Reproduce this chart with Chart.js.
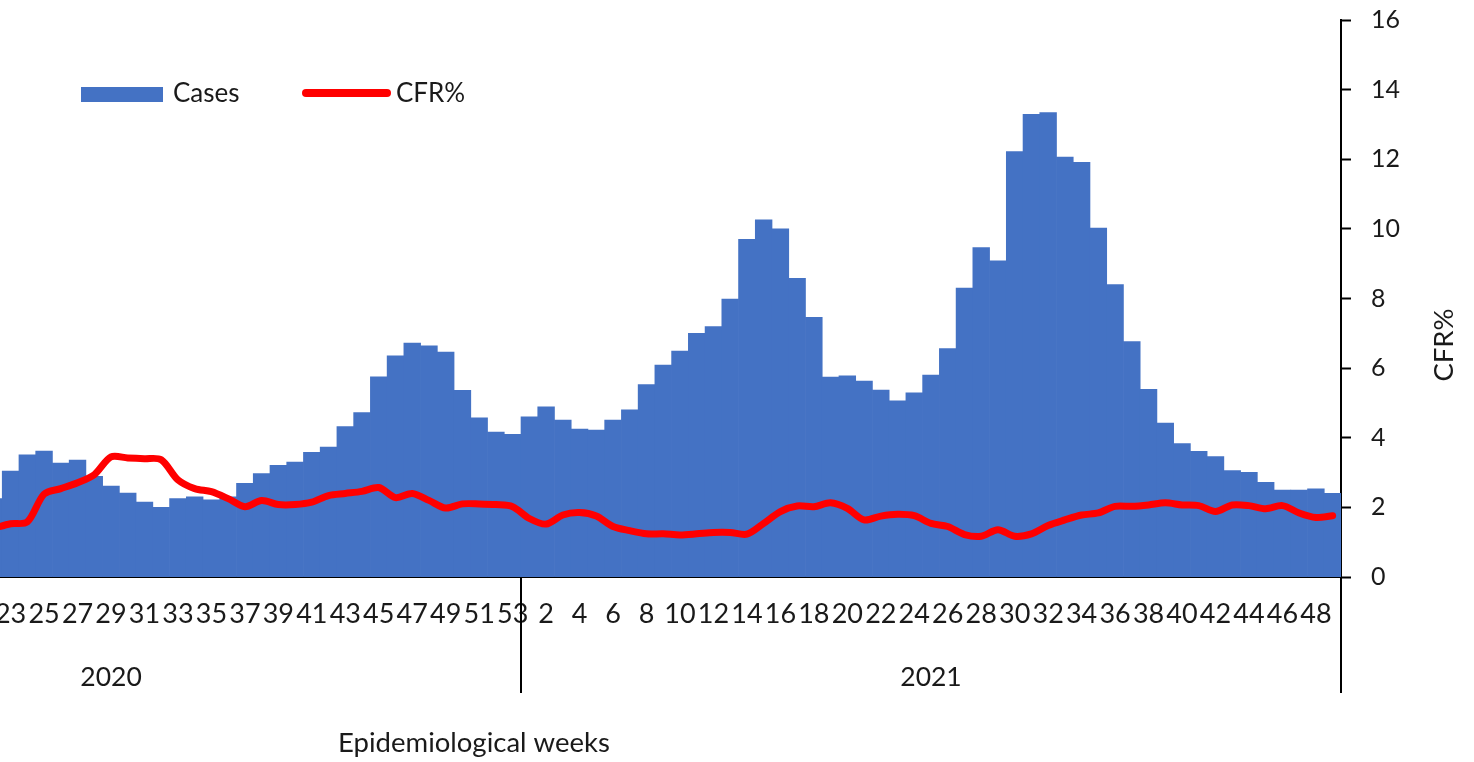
<!DOCTYPE html>
<html>
<head>
<meta charset="utf-8">
<title>Cases and CFR% by epidemiological week</title>
<script src="https://cdn.jsdelivr.net/npm/chart.js@4.4.1/dist/chart.umd.min.js"></script>
<style>
  html, body { margin: 0; padding: 0; background: #fff; overflow: hidden; }
  /* the original figure is cropped on the left, so the canvas starts off-screen */
  #wrap { position: absolute; left: -60px; top: 0; width: 1534px; height: 762px; }
</style>
</head>
<body>
<div id="wrap"><canvas id="chart" width="1534" height="762"></canvas></div>
<script>
const SHIFT = 60; // px of canvas hidden on the left

// 2020 w22..w53, then 2021 w1..w49
const weeks = [
  "22", "23", "24", "25", "26", "27", "28", "29", "30", "31", "32", "33", "34", "35", "36", "37",
  "38", "39", "40", "41", "42", "43", "44", "45", "46", "47", "48", "49", "50", "51", "52", "53",
  "1", "2", "3", "4", "5", "6", "7", "8", "9", "10", "11", "12", "13", "14", "15", "16", "17",
  "18", "19", "20", "21", "22", "23", "24", "25", "26", "27", "28", "29", "30", "31", "32", "33",
  "34", "35", "36", "37", "38", "39", "40", "41", "42", "43", "44", "45", "46", "47", "48", "49"
];
const years = ["2020", "2021"];
const firstWeek2020 = 5; // 2020 group starts before the visible part

const cases = [
  2250, 3040, 3510, 3620, 3270, 3360, 2890, 2610, 2410, 2150, 2000, 2250, 2300, 2220, 2300, 2690,
  2970, 3210, 3300, 3580, 3730, 4320, 4720, 5750, 6350, 6720, 6640, 6460, 5360, 4570, 4160, 4100,
  4600, 4890, 4510, 4250, 4220, 4510, 4800, 5530, 6090, 6490, 7000, 7190, 7980, 9700, 10260, 10000, 8580,
  7460, 5740, 5780, 5630, 5370, 5060, 5290, 5800, 6560, 8300, 9460, 9080, 12220, 13290, 13340, 12060,
  11910, 10020, 8400, 6760, 5390, 4420, 3830, 3610, 3460, 3060, 3010, 2720, 2500, 2500, 2530, 2400
];

const cfr = [
  1.40, 1.53, 1.58, 2.38, 2.54, 2.71, 2.94, 3.45, 3.42, 3.40, 3.37, 2.79, 2.54, 2.45, 2.25, 2.02,
  2.20, 2.08, 2.08, 2.15, 2.34, 2.40, 2.46, 2.57, 2.28, 2.40, 2.20, 1.98, 2.10, 2.10, 2.08, 2.02,
  1.68, 1.52, 1.78, 1.85, 1.75, 1.45, 1.33, 1.24, 1.24, 1.21, 1.24, 1.28, 1.28, 1.23, 1.54, 1.88, 2.04,
  2.02, 2.13, 1.97, 1.64, 1.75, 1.80, 1.76, 1.54, 1.45, 1.22, 1.17, 1.36, 1.17, 1.24, 1.48, 1.64,
  1.78, 1.84, 2.03, 2.03, 2.07, 2.13, 2.07, 2.05, 1.88, 2.07, 2.05, 1.96, 2.05, 1.84, 1.71, 1.76
];

const FONT = "Lato";
const TEXT = "#1a1a1a";
const BLUE = "#4472C4";
const RED = "#FF0000";

const extras = {
  id: "extras",
  afterDraw(chart) {
    const { ctx, chartArea, scales } = chart;
    const x = scales.x;
    const yearBreak = weeks.indexOf("1");
    const last = weeks.length - 1;
    ctx.save();

    // category group separators below the axis
    ctx.strokeStyle = "#000";
    ctx.lineWidth = 2;
    [yearBreak - 0.5, last + 0.5].forEach((v) => {
      const px = Math.round(x.getPixelForValue(v));
      ctx.beginPath();
      ctx.moveTo(px, chartArea.bottom);
      ctx.lineTo(px, 693);
      ctx.stroke();
    });

    // year labels
    ctx.font = "26.5px " + FONT;
    ctx.fillStyle = TEXT;
    ctx.textAlign = "center";
    ctx.textBaseline = "middle";
    const groups = [
      [firstWeek2020 - Number(weeks[0]), yearBreak - 1],
      [yearBreak, last],
    ];
    groups.forEach((g, i) => {
      const cx = (x.getPixelForValue(g[0] - 0.5) + x.getPixelForValue(g[1] + 0.5)) / 2;
      ctx.fillText(years[i], cx, 677);
    });

    // axis titles
    ctx.font = "27.5px " + FONT;
    ctx.fillText("Epidemiological weeks", 474 + SHIFT, 743);
    ctx.save();
    ctx.translate(1444 + SHIFT, 345);
    ctx.rotate(-Math.PI / 2);
    ctx.fillText("CFR%", 0, 0);
    ctx.restore();

    // legend
    const barDs = chart.data.datasets[1];
    const lineDs = chart.data.datasets[0];
    ctx.font = "26px " + FONT;
    ctx.textAlign = "left";
    ctx.fillStyle = barDs.backgroundColor;
    ctx.fillRect(81 + SHIFT, 87, 82, 15);
    ctx.fillStyle = TEXT;
    ctx.fillText(barDs.label, 173 + SHIFT, 94);
    ctx.strokeStyle = lineDs.borderColor;
    ctx.lineWidth = 8;
    ctx.lineCap = "round";
    ctx.beginPath();
    ctx.moveTo(306 + SHIFT, 93);
    ctx.lineTo(387 + SHIFT, 93);
    ctx.stroke();
    ctx.fillText(lineDs.label, 396 + SHIFT, 94);

    ctx.restore();
  },
};

new Chart(document.getElementById("chart"), {
  type: "bar",
  data: {
    labels: weeks,
    datasets: [
      {
        type: "line",
        label: "CFR%",
        data: cfr,
        yAxisID: "y1",
        borderColor: RED,
        backgroundColor: RED,
        borderWidth: 7,
        pointRadius: 0,
        tension: 0.3,
        borderCapStyle: "round",
        borderJoinStyle: "round",
        order: 0,
      },
      {
        label: "Cases",
        data: cases,
        yAxisID: "y",
        backgroundColor: BLUE,
        borderWidth: 0,
        barPercentage: 1,
        categoryPercentage: 1,
        order: 1,
      },
    ],
  },
  options: {
    responsive: false,
    animation: false,
    devicePixelRatio: 1,
    layout: { padding: { left: SHIFT - 14.5, top: 20, right: 0, bottom: 0 } },
    plugins: {
      legend: { display: false },
      tooltip: { enabled: false },
    },
    scales: {
      x: {
        offset: true,
        grid: { display: false, drawTicks: false },
        border: { display: true, color: "#000", width: 2 },
        ticks: {
          autoSkip: false,
          maxRotation: 0,
          minRotation: 0,
          padding: 21,
          color: TEXT,
          font: { family: FONT, size: 27 },
          callback: function (value, index) {
            return index % 2 === 1 ? this.getLabelForValue(value) : "";
          },
        },
        afterFit(scale) {
          scale.height = 185;
        },
      },
      y: {
        display: false,
        min: 0,
        max: 16000,
      },
      y1: {
        position: "right",
        min: 0,
        max: 16,
        ticks: {
          stepSize: 2,
          padding: 20,
          color: TEXT,
          font: { family: FONT, size: 25 },
        },
        grid: {
          drawOnChartArea: false,
          drawTicks: true,
          tickLength: 10,
          tickWidth: 2,
          tickColor: "#000",
        },
        border: { display: true, color: "#000", width: 2 },
        afterFit(scale) {
          scale.width = 133;
          scale.paddingTop = 0;
          scale.paddingBottom = 0;
        },
      },
    },
  },
  plugins: [extras],
});
</script>
</body>
</html>
